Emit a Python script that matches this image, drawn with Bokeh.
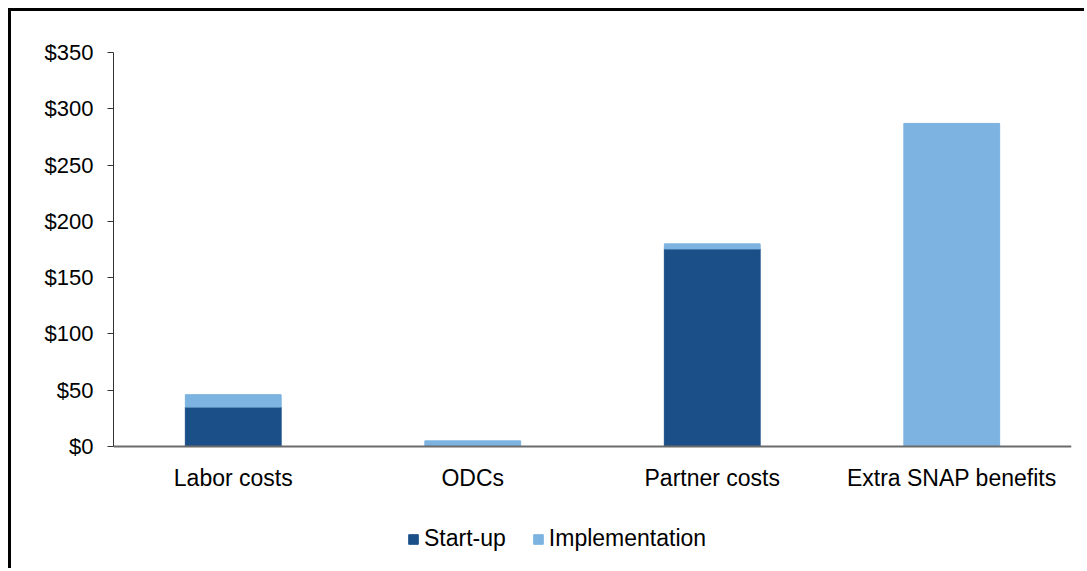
from bokeh.plotting import figure
from bokeh.models import ColumnDataSource, Range1d, NumeralTickFormatter, FixedTicker, Legend, LegendItem
from bokeh.embed import file_html
from bokeh.resources import INLINE

categories = ["Labor costs", "ODCs", "Partner costs", "Extra SNAP benefits"]
startup = [35, 0, 175.5, 0]
implementation = [11, 5, 4.5, 287]
series_names = ["Start-up", "Implementation"]
y_ticks = [0, 50, 100, 150, 200, 250, 300, 350]

DARK = "#1B4F88"
LIGHT = "#7CB3E0"
FONT = "Liberation Sans"

source = ColumnDataSource(dict(cat=categories, start=startup, impl=implementation))

# frame: 519 px tall, value axis 0..350 occupies the top 394 px; space below holds labels + legend
p = figure(x_range=categories, y_range=Range1d(-111.04, 350), width=1076, height=560,
           output_backend="svg", toolbar_location=None,
           min_border_left=102, min_border_right=16, min_border_top=41, min_border_bottom=0)
p.styles = {"margin-left": "8px", "margin-top": "8px",
            "border-top": "3px solid black", "border-left": "3px solid black"}

rs = p.vbar_stack(["start", "impl"], x="cat", width=0.4, color=[DARK, LIGHT], source=source)

p.outline_line_color = None
p.xgrid.grid_line_color = None
p.ygrid.grid_line_color = None

p.yaxis.ticker = FixedTicker(ticks=y_ticks)
p.yaxis.bounds = (0, 350)
p.yaxis.formatter = NumeralTickFormatter(format="$0")
p.yaxis.axis_line_color = "#333333"
p.yaxis.major_tick_line_color = "#333333"
p.yaxis.major_tick_out = 6
p.yaxis.major_tick_in = 0
p.yaxis.minor_tick_line_color = None
p.yaxis.major_label_standoff = 14
p.yaxis.major_label_text_font = FONT
p.yaxis.major_label_text_font_size = "22px"
p.yaxis.major_label_text_color = "black"

p.xaxis.fixed_location = 0
p.xaxis.axis_line_color = "#6b6b6b"
p.xaxis.axis_line_width = 2
p.xaxis.major_tick_line_color = None
p.xaxis.minor_tick_line_color = None
p.xaxis.major_label_standoff = 12
p.xaxis.major_label_text_font = FONT
p.xaxis.major_label_text_font_size = "23px"
p.xaxis.major_label_text_color = "black"

legend = Legend(items=[LegendItem(label=series_names[0], renderers=[rs[0]]),
                       LegendItem(label=series_names[1], renderers=[rs[1]])],
                orientation="horizontal", location=(294, 19),
                label_text_font=FONT, label_text_font_size="23px", label_text_color="black",
                glyph_width=12, glyph_height=12, label_standoff=5, spacing=26,
                border_line_color=None, background_fill_alpha=0, margin=0, padding=0)
p.add_layout(legend, "center")

open("out.html", "w").write(file_html(p, INLINE))
